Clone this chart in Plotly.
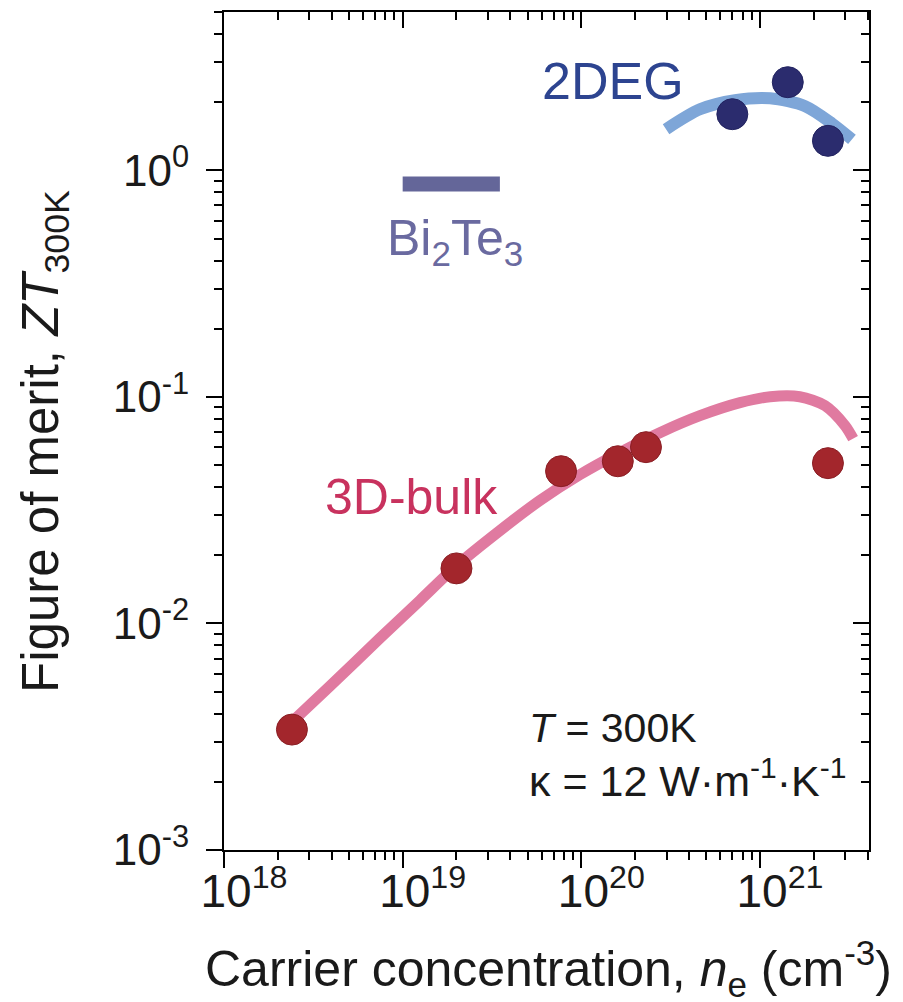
import plotly.graph_objects as go

# 3D-bulk: measured ZT at 300 K vs carrier concentration
bulk_n = [2.4e18, 2.0e19, 7.7e19, 1.6e20, 2.3e20, 2.4e21]
bulk_zt = [3.4e-3, 0.0175, 0.047, 0.052, 0.060, 0.051]

# 3D-bulk model curve
bulk_fit_n = [2.39e18, 3.91e18, 7.45e18, 1.25e19, 2.01e19, 3.5e19, 5.86e19, 9.82e19, 1.64e20,
              2.75e20, 4.61e20, 7.73e20, 1.14e21, 1.67e21, 2.31e21, 2.99e21, 3.32e21]
bulk_fit_zt = [3.66e-3, 5.28e-3, 8.6e-3, 0.01264, 0.01803, 0.0257, 0.0349, 0.0454, 0.0568,
               0.0695, 0.0826, 0.0943, 0.1002, 0.1002, 0.0915, 0.0747, 0.0654]

# 2DEG: measured ZT
deg_n = [7.0e20, 1.43e21, 2.4e21]
deg_zt = [1.77, 2.45, 1.35]

# 2DEG model curve
deg_fit_n = [2.98e20, 4.61e20, 7.25e20, 1.14e21, 1.79e21, 2.53e21, 3.27e21]
deg_fit_zt = [1.52, 1.86, 2.04, 2.08, 1.92, 1.61, 1.37]

# Bi2Te3 reference range
bite_n = [1.0e19, 3.5e19]
bite_zt = [0.87, 0.87]

x_major = [1e18, 1e19, 1e20, 1e21]
x_major_text = ["10<sup>18</sup>", "10<sup>19</sup>", "10<sup>20</sup>", "10<sup>21</sup>"]
y_major = [1e-3, 1e-2, 1e-1, 1e0]
y_major_text = ["10<sup>-3</sup>", "10<sup>-2</sup>", "10<sup>-1</sup>", "10<sup>0</sup>"]

x_minor = [float(m) * 10.0 ** e for e in range(18, 22) for m in range(2, 10)]
y_minor = [float(m) * 10.0 ** e for e in range(-3, 1) for m in range(2, 10)]

FONT = "Liberation Sans, Arial, sans-serif"
INK = "#1a1a1a"
X_RANGE = [18, 21.61]
Y_RANGE = [-3, 0.699]

fig = go.Figure()

fig.add_trace(go.Scatter(x=bulk_fit_n, y=bulk_fit_zt, mode="lines",
                         line=dict(color="#e07aa0", width=11, shape="spline", smoothing=0.8),
                         hoverinfo="skip"))
fig.add_trace(go.Scatter(x=deg_fit_n, y=deg_fit_zt, mode="lines",
                         line=dict(color="#7ea6d8", width=12, shape="spline", smoothing=0.8),
                         hoverinfo="skip"))
fig.add_trace(go.Scatter(x=bite_n, y=bite_zt, mode="lines",
                         line=dict(color="#646699", width=15), hoverinfo="skip"))
fig.add_trace(go.Scatter(x=bulk_n, y=bulk_zt, mode="markers",
                         marker=dict(size=31, color="#a3262c", line=dict(color="#8a1e24", width=1))))
fig.add_trace(go.Scatter(x=deg_n, y=deg_zt, mode="markers",
                         marker=dict(size=31, color="#2b2c6e", line=dict(color="#222360", width=1))))
# invisible trace anchoring the mirrored top/right axes
fig.add_trace(go.Scatter(x=[1e19], y=[1e-2], xaxis="x2", yaxis="y2", mode="markers",
                         marker=dict(opacity=0), hoverinfo="skip"))

axis_common = dict(showline=True, linecolor="black", linewidth=2, showgrid=False,
                   zeroline=False, tickcolor="black", tickwidth=2, automargin=False)


def minor_ticks(vals, side):
    return dict(tickmode="array", tickvals=vals, ticks=side, ticklen=8,
                tickwidth=2, tickcolor="black", showgrid=False)


fig.update_layout(
    width=903, height=1002,
    margin=dict(l=224, r=34, t=12, b=152),
    paper_bgcolor="white", plot_bgcolor="white",
    showlegend=False,
    font=dict(family=FONT, color=INK),
    xaxis=dict(type="log", range=X_RANGE, tickmode="array", tickvals=x_major,
               ticktext=x_major_text, ticks="outside", ticklen=16,
               minor=minor_ticks(x_minor, "outside"),
               tickfont=dict(size=46, family=FONT, color=INK),
               ticklabelshift=20, ticklabelstandoff=-16,
               **axis_common),
    yaxis=dict(type="log", range=Y_RANGE, tickmode="array", tickvals=y_major,
               ticktext=y_major_text, ticks="outside", ticklen=16,
               minor=minor_ticks(y_minor, "outside"),
               tickfont=dict(size=44, family=FONT, color=INK),
               ticklabelstandoff=8,
               **axis_common),
    xaxis2=dict(type="log", range=X_RANGE, overlaying="x", side="top", anchor="y",
                tickmode="array", tickvals=x_major, showticklabels=False,
                ticks="inside", ticklen=16,
                minor=minor_ticks(x_minor, "inside"),
                **axis_common),
    yaxis2=dict(type="log", range=Y_RANGE, overlaying="y", side="right", anchor="x",
                tickmode="array", tickvals=y_major, showticklabels=False,
                ticks="inside", ticklen=16,
                minor=minor_ticks(y_minor, "inside"),
                **axis_common),
)

# axis titles
fig.add_annotation(xref="paper", yref="paper", x=0.503, y=-0.141,
                   text="Carrier concentration, <i>n</i><sub>e</sub> (cm<sup>-3</sup>)",
                   showarrow=False, xanchor="center", yanchor="middle",
                   font=dict(size=50, family=FONT, color=INK))
fig.add_annotation(xref="paper", yref="paper", x=-0.2775, y=0.487,
                   text="Figure of merit, <i>ZT</i><sub>300K</sub>", textangle=-90,
                   showarrow=False, xanchor="center", yanchor="middle",
                   font=dict(size=51, family=FONT, color=INK))

# in-plot labels
fig.add_annotation(x=20.176, y=0.394, text="2DEG", showarrow=False,
                   font=dict(size=52, family=FONT, color="#2d4490"))
fig.add_annotation(x=19.292, y=-0.312, text="Bi<sub>2</sub>Te<sub>3</sub>", showarrow=False,
                   font=dict(size=50, family=FONT, color="#6a6aa0"))
fig.add_annotation(x=19.047, y=-1.444, text="3D-bulk", showarrow=False,
                   font=dict(size=50, family=FONT, color="#c8325e"))
fig.add_annotation(x=19.695, y=-2.462, text="<i>T</i> = 300K", showarrow=False, xanchor="left",
                   font=dict(size=41, family=FONT, color=INK))
fig.add_annotation(x=19.695, y=-2.683, text="κ = 12 W·m<sup>-1</sup>·K<sup>-1</sup>", showarrow=False,
                   xanchor="left", font=dict(size=43, family=FONT, color=INK))

fig.write_html("out.html")
